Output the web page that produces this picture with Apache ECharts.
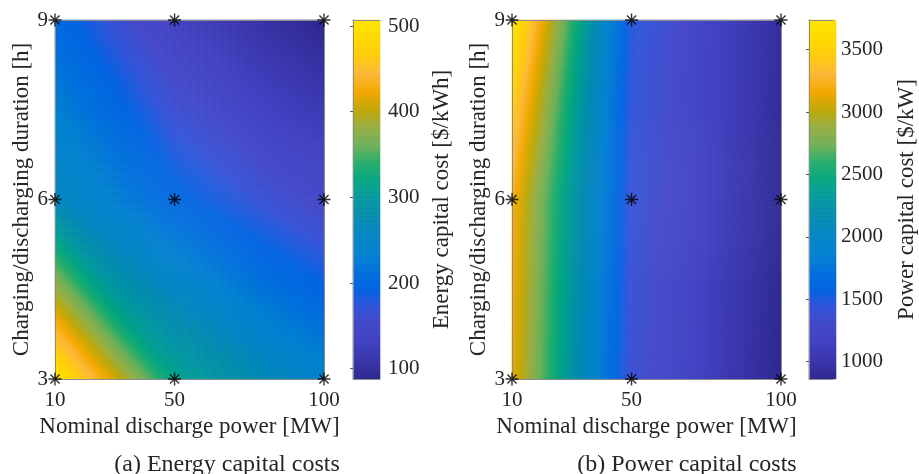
<!DOCTYPE html>
<html>
<head>
<meta charset="utf-8">
<title>Energy and power capital costs</title>
<script src="https://cdn.jsdelivr.net/npm/echarts@6/dist/echarts.min.js"></script>
<style>
  html, body { margin: 0; padding: 0; background: #ffffff; }
  #chart { width: 919px; height: 474px; }
</style>
</head>
<body>
<div id="chart"></div>
<script>
// Grid of simulated configurations
const powerMW = [10, 50, 100];          // nominal discharge power [MW]
const durationH = [3, 6, 9];            // charging/discharging duration [h]

// Costs per configuration: one row per duration (3, 6, 9 h), one column per power (10, 50, 100 MW)
const energyCost = [                    // $/kWh
  [507, 315, 245],
  [265, 200, 145],
  [205, 128, 88]
];
const powerCost = [                     // $/kW
  [3150, 1380, 861],
  [3220, 1420, 900],
  [3737, 1480, 940]
];

// Tick labels
const xTickValues = [10, 50, 100];
const yTickValues = [3, 6, 9];
const energyBarTicks = [100, 200, 300, 400, 500];
const powerBarTicks = [1000, 1500, 2000, 2500, 3000, 3500];

// Parula-style colour ramp, low to high
const parula = [
  '#30288F', '#3A36AA', '#4142C2', '#4448C8', '#3454D8', '#0464E2', '#0070DC',
  '#0080D0', '#0084C4', '#008AAE', '#0096A0', '#00A482', '#20AC6C', '#6CB058',
  '#96AE46', '#C0A808', '#F2A800', '#FDB93A', '#FFCC10', '#FFDA00', '#FFE400'
];

const FONT = 'Liberation Serif';
const TEXT = '#262626';
const FRAME = '#8c8c8c';
const NX = 135, NY = 180, NBAR = 180;

function cellIndex(arr, v) {
  for (let i = 0; i < arr.length - 2; i++) if (v <= arr[i + 1]) return i;
  return arr.length - 2;
}

// Inside one grid cell, iso-lines are straight segments joining the points where a
// level crosses the cell edges (linear along each edge), as in a filled contour plot.
// The shade at (u, w) is the level whose segment passes through that point.
function isAbove(c, L, u, w) {
  const pts = [];
  for (let k = 0; k < 4; k++) {
    const a = c[k], b = c[(k + 1) % 4];
    if ((a[2] - L) * (b[2] - L) < 0) {
      const t = (L - a[2]) / (b[2] - a[2]);
      pts.push([a[0] + t * (b[0] - a[0]), a[1] + t * (b[1] - a[1])]);
    }
  }
  if (pts.length !== 2) return null;
  const hiCorner = c.find(q => q[2] > L);
  const [p, q] = pts;
  const side = (x, y) => (q[0] - p[0]) * (y - p[1]) - (q[1] - p[1]) * (x - p[0]);
  return side(u, w) * side(hiCorner[0], hiCorner[1]) > 0;
}
function cellShade(v00, v10, v01, v11, u, w) {
  const c = [[0, 0, v00], [1, 0, v10], [1, 1, v11], [0, 1, v01]];
  let lo = Math.min(v00, v10, v01, v11), hi = Math.max(v00, v10, v01, v11);
  const bil = (1 - u) * (1 - w) * v00 + u * (1 - w) * v10 + (1 - u) * w * v01 + u * w * v11;
  if (hi - lo < 1e-9) return lo;
  for (let k = 0; k < 40; k++) {
    const L = (lo + hi) / 2;
    const above = isAbove(c, L, u, w);
    if (above === null) return bil;
    if (above) lo = L; else hi = L;
  }
  return (lo + hi) / 2;
}
function shade(z, x, y) {
  const i = cellIndex(powerMW, x), j = cellIndex(durationH, y);
  const u = (x - powerMW[i]) / (powerMW[i + 1] - powerMW[i]);
  const w = (y - durationH[j]) / (durationH[j + 1] - durationH[j]);
  return cellShade(z[j][i], z[j][i + 1], z[j + 1][i], z[j + 1][i + 1], u, w);
}
function surface(z) {
  const x0 = powerMW[0], x1 = powerMW[powerMW.length - 1];
  const y0 = durationH[0], y1 = durationH[durationH.length - 1];
  const out = [];
  for (let i = 0; i < NX; i++) {
    const x = x0 + (i + 0.5) * (x1 - x0) / NX;
    for (let j = 0; j < NY; j++) {
      const y = y0 + (j + 0.5) * (y1 - y0) / NY;
      out.push([i, j, shade(z, x, y)]);
    }
  }
  return out;
}
function gridPoints(z) {
  const pts = [];
  durationH.forEach((y, j) => powerMW.forEach((x, i) => pts.push([x, y, z[j][i]])));
  return pts;
}
function valueRange(z) {
  const flat = z.flat();
  return [Math.min(...flat), Math.max(...flat)];
}
function barColumn(lo, hi) {
  const out = [];
  for (let j = 0; j < NBAR; j++) out.push([0, j, lo + (j + 0.5) * (hi - lo) / NBAR]);
  return out;
}
function seq(n) { return Array.from({ length: n }, (_, k) => k); }

const asterisk = 'path://M0 -10L0 10M-10 0L10 0M-7.07 -7.07L7.07 7.07M-7.07 7.07L7.07 -7.07';

const option = {
  animation: false,
  backgroundColor: '#ffffff',
  grid: [], xAxis: [], yAxis: [], series: [], visualMap: [], title: []
};

function frameAxis(gridIndex, position, min, max) {
  return {
    type: 'value', gridIndex, position, min, max, z: 10,
    axisLine: { show: true, lineStyle: { color: FRAME, width: 1 } },
    axisTick: { show: false }, axisLabel: { show: false }, splitLine: { show: false }
  };
}
function hiddenCategory(gridIndex, n) {
  return { type: 'category', gridIndex, data: seq(n), show: false };
}

function addPanel(cfg) {
  const [lo, hi] = valueRange(cfg.z);
  const g = option.grid.length;
  const top = 20, height = 359;
  option.grid.push(
    { left: cfg.plotLeft, top, width: 269, height },
    { left: cfg.plotLeft, top, width: 269, height },
    { left: cfg.barLeft, top, width: 27, height },
    { left: cfg.barLeft, top, width: 27, height }
  );

  // shaded surface
  const hx = option.xAxis.length; option.xAxis.push(hiddenCategory(g, NX));
  const hy = option.yAxis.length; option.yAxis.push(hiddenCategory(g, NY));

  // labelled axes and frame over the surface
  const ox = option.xAxis.length;
  option.xAxis.push({
    type: 'value', gridIndex: g + 1, position: 'bottom', min: powerMW[0], max: powerMW[powerMW.length - 1], z: 10,
    name: 'Nominal discharge power [MW]', nameLocation: 'middle', nameGap: 34,
    nameTextStyle: { fontFamily: FONT, fontSize: 23, color: TEXT },
    axisLine: { show: true, lineStyle: { color: FRAME, width: 1 } },
    axisTick: { show: false },
    axisLabel: { customValues: xTickValues, margin: 11, fontFamily: FONT, fontSize: 21, color: TEXT },
    splitLine: { show: false }
  });
  option.xAxis.push(frameAxis(g + 1, 'top', powerMW[0], powerMW[powerMW.length - 1]));
  const oy = option.yAxis.length;
  option.yAxis.push({
    type: 'value', gridIndex: g + 1, position: 'left', min: durationH[0], max: durationH[durationH.length - 1],
    interval: 3, z: 10,
    name: 'Charging/discharging duration [h]', nameLocation: 'middle', nameRotate: 90, nameGap: 22,
    nameTextStyle: { fontFamily: FONT, fontSize: 23, color: TEXT },
    axisLine: { show: true, lineStyle: { color: FRAME, width: 1 } },
    axisTick: { show: false },
    axisLabel: { customValues: yTickValues, margin: 7, fontFamily: FONT, fontSize: 21, color: TEXT },
    splitLine: { show: false }
  });
  option.yAxis.push(frameAxis(g + 1, 'right', durationH[0], durationH[durationH.length - 1]));

  // colour bar
  const bx = option.xAxis.length; option.xAxis.push(hiddenCategory(g + 2, 1));
  const by = option.yAxis.length; option.yAxis.push(hiddenCategory(g + 2, NBAR));
  option.xAxis.push(frameAxis(g + 3, 'bottom', 0, 1));
  option.xAxis.push(frameAxis(g + 3, 'top', 0, 1));
  option.yAxis.push({
    type: 'value', gridIndex: g + 3, position: 'right', min: lo, max: hi, z: 10,
    name: cfg.barName, nameLocation: 'middle', nameRotate: 90, nameGap: cfg.barNameGap,
    nameTextStyle: { fontFamily: FONT, fontSize: 23, color: TEXT },
    axisLine: { show: true, lineStyle: { color: FRAME, width: 1 } },
    axisTick: { show: true, inside: true, length: 3, customValues: cfg.barTicks, lineStyle: { color: '#555' } },
    axisLabel: {
      customValues: cfg.barTicks, margin: 8, fontFamily: FONT, fontSize: 21, color: TEXT,
      formatter: v => String(v)
    },
    splitLine: { show: false }
  });
  option.yAxis.push(frameAxis(g + 3, 'left', lo, hi));

  const s = option.series.length;
  option.series.push(
    {
      type: 'heatmap', xAxisIndex: hx, yAxisIndex: hy, data: surface(cfg.z),
      progressive: 0, silent: true, itemStyle: { borderWidth: 0 }, emphasis: { disabled: true }
    },
    {
      type: 'scatter', xAxisIndex: ox, yAxisIndex: oy, data: gridPoints(cfg.z), z: 12, clip: false,
      symbol: asterisk, symbolSize: 13, silent: true,
      itemStyle: { color: 'rgba(0,0,0,0)', borderColor: '#000000', borderWidth: 1.4 }
    },
    {
      type: 'heatmap', xAxisIndex: bx, yAxisIndex: by, data: barColumn(lo, hi),
      progressive: 0, silent: true, itemStyle: { borderWidth: 0 }, emphasis: { disabled: true }
    }
  );
  option.visualMap.push({
    type: 'continuous', show: false, min: lo, max: hi, dimension: 2,
    seriesIndex: [s, s + 2], inRange: { color: parula }
  });
  option.title.push({
    text: cfg.caption, left: cfg.captionX, top: 453, textAlign: 'center', padding: 0,
    textStyle: { fontFamily: FONT, fontSize: 24, fontWeight: 'normal', color: TEXT }
  });
}

addPanel({
  z: energyCost, plotLeft: 55, barLeft: 353, barTicks: energyBarTicks, barNameGap: 50,
  barName: 'Energy capital cost [$/kWh]', caption: '(a) Energy capital costs', captionX: 227
});
addPanel({
  z: powerCost, plotLeft: 512, barLeft: 809, barTicks: powerBarTicks, barNameGap: 62,
  barName: 'Power capital cost [$/kW]', caption: '(b) Power capital costs', captionX: 687
});

const chart = echarts.init(document.getElementById('chart'), null, { renderer: 'canvas' });
chart.setOption(option);
</script>
</body>
</html>
